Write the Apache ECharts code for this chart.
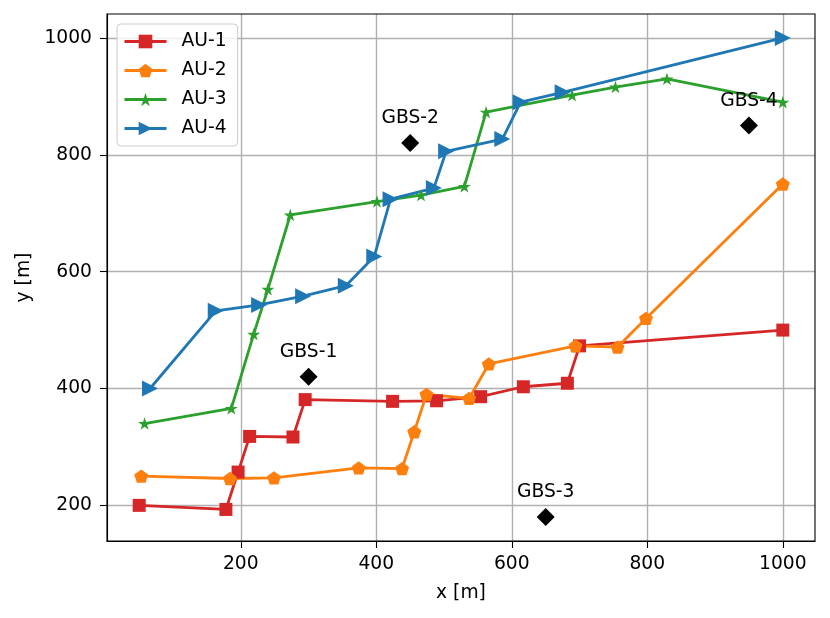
<!DOCTYPE html>
<html>
<head>
<meta charset="utf-8">
<script src="https://cdn.jsdelivr.net/npm/echarts@6/dist/echarts.min.js"></script>
<style>html,body{margin:0;padding:0;background:#fff;}#c{width:830px;height:618px;}</style>
</head>
<body>
<div id="c"></div>
<script>
const au1 = [[50,200],[178,193],[196,257],[213,318],[277,317],[295,381],[424,378],[489,379],[554,386],[617,403],[682,409],[700,473],[1000,500]];
const au2 = [[53,250],[184,246],[249,247],[374,264],[438,263],[456,326],[474,390],[537,383],[566,442],[694,473],[756,471],[798,520],[1000,750]];
const au3 = [[58,340],[186,366],[219,493],[240,570],[273,697],[401,720],[466,731],[530,746],[562,873],[689,902],[753,916],[829,930],[1000,890]];
const au4 = [[66,400],[163,533],[227,543],[292,558],[355,576],[397,626],[421,724],[485,743],[503,806],[586,827],[613,890],[675,907],[1000,1000]];
const gbsNames = ['GBS-1','GBS-2','GBS-3','GBS-4'];
const gbsX = [300,450,650,950];
const gbsY = [420,820,180,850];
const xTicks = [200,400,600,800,1000];
const yTicks = [200,400,600,800,1000];

const FONT = 'DejaVu Sans';
const FS = 18.7;
const STAR = 'path://M100,0L122.45,69.1L195.1,69.1L136.3,111.8L158.8,180.9L100,138.2L41.2,180.9L63.7,111.8L4.9,69.1L77.55,69.1Z';
const PENT = 'path://M100,0L195.1,69.1L158.8,180.9L41.2,180.9L4.9,69.1Z';
const TRI_R = 'path://M0,0L200,100L0,200Z';

function lineSeries(name, data, color, symbol, size) {
  return {
    name: name, type: 'line', data: data, color: color,
    symbol: symbol, symbolSize: size, showSymbol: true,
    lineStyle: {color: color, width: 2.8},
    itemStyle: {color: color, borderWidth: 0, opacity: 1},
    emphasis: {disabled: true}, animation: false
  };
}

const chart = echarts.init(document.getElementById('c'), null, {renderer: 'canvas'});
chart.setOption({
  backgroundColor: '#fff',
  animation: false,
  textStyle: {fontFamily: FONT},
  grid: {left: 107, right: 15, top: 14, bottom: 77, containLabel: false},
  legend: {
    orient: 'vertical', left: 117, top: 24,
    padding: [8, 11, 8, 6],
    itemWidth: 42, itemHeight: 17, itemGap: 10,
    borderColor: '#cccccc', borderWidth: 1, borderRadius: 4,
    backgroundColor: 'rgba(255,255,255,0.8)',
    lineStyle: {width: 3},
    textStyle: {fontFamily: FONT, fontSize: FS, color: '#000', padding: [0,0,0,10]},
    data: ['AU-1','AU-2','AU-3','AU-4']
  },
  xAxis: {
    type: 'value', min: 2.5, max: 1047.5,
    name: 'x [m]', nameLocation: 'middle', nameGap: 43,
    nameTextStyle: {fontFamily: FONT, fontSize: FS, color: '#000'},
    axisLine: {show: true, onZero: false, lineStyle: {color: '#000', width: 1.1}},
    axisTick: {show: true, length: 7, lineStyle: {color: '#000', width: 1.1}, customValues: xTicks},
    axisLabel: {fontFamily: FONT, fontSize: FS, color: '#000', margin: 14, customValues: xTicks,
      formatter: v => String(v)},
    splitLine: {show: true, lineStyle: {color: '#b0b0b0', width: 1.4}}
  },
  yAxis: {
    type: 'value', min: 139, max: 1041,
    name: 'y [m]', nameLocation: 'middle', nameGap: 64, nameRotate: 90,
    nameTextStyle: {fontFamily: FONT, fontSize: FS, color: '#000'},
    axisLine: {show: true, onZero: false, lineStyle: {color: '#000', width: 1.1}},
    axisTick: {show: true, length: 7, lineStyle: {color: '#000', width: 1.1}, customValues: yTicks},
    axisLabel: {fontFamily: FONT, fontSize: FS, color: '#000', margin: 15, customValues: yTicks,
      formatter: v => String(v)},
    splitLine: {show: true, lineStyle: {color: '#b0b0b0', width: 1.4}}
  },
  graphic: [{
    type: 'rect', shape: {x: 107, y: 14, width: 708, height: 527},
    style: {fill: 'none', stroke: '#000', lineWidth: 1.1}, silent: true, z: 100
  }],
  series: [
    lineSeries('AU-1', au1, '#d62728', 'rect', 13),
    lineSeries('AU-2', au2, '#ff7f0e', PENT, [14, 13.3]),
    lineSeries('AU-3', au3, '#2ca02c', STAR, [13, 12.4]),
    lineSeries('AU-4', au4, '#1f77b4', TRI_R, [16, 16]),
    {
      name: 'GBS', type: 'scatter', symbol: 'diamond', symbolSize: [18, 18],
      itemStyle: {color: '#000', opacity: 1},
      data: gbsNames.map((n, i) => ({name: n, value: [gbsX[i], gbsY[i]]})),
      label: {show: true, position: 'top', distance: 6, formatter: p => p.name,
        fontFamily: FONT, fontSize: FS, color: '#000', opacity: 1},
      emphasis: {disabled: true}, z: 5
    }
  ]
});
</script>
</body>
</html>
